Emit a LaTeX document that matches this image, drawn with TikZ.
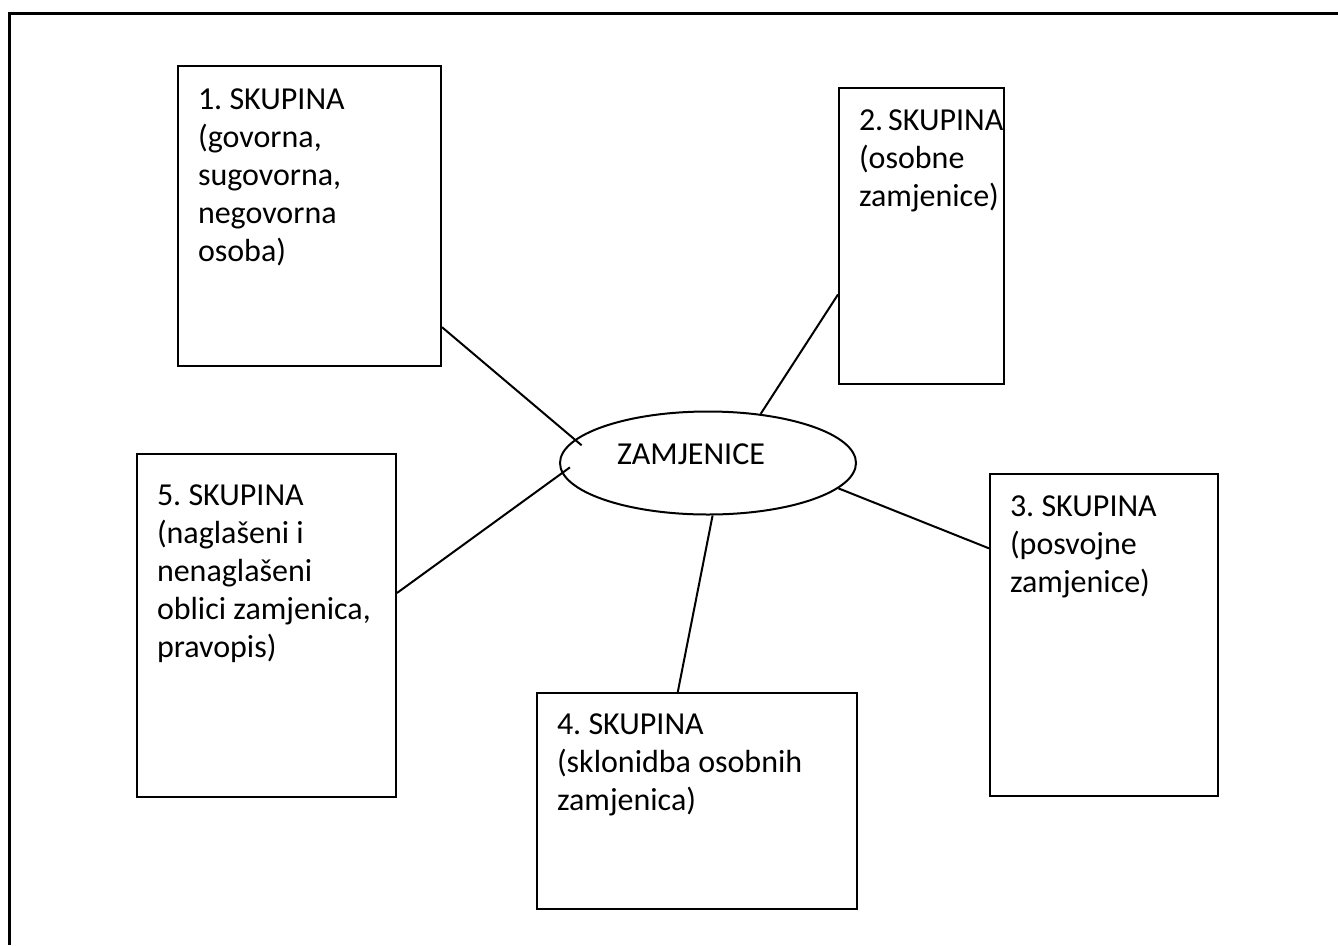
\documentclass[tikz,border=0pt]{standalone}
\usepackage{fontspec}
\setmainfont{Carlito}
\frenchspacing
\usetikzlibrary{shapes.geometric}

\begin{document}
\begin{tikzpicture}[x=1pt,y=-1pt,
        skupina/.style={draw, line width=2pt, anchor=north west, align=flush left,
            inner xsep=20pt, inner ysep=0pt, font=\fontsize{32}{38}\selectfont},
        veza/.style={line width=2pt}]
    \useasboundingbox (0,0) rectangle (1338,945);
    \draw[line width=3pt] (1338,13) -- (9.5,13) -- (9.5,945);

    \node[skupina, text width=223pt, text height=43pt, text depth=257pt] (s1) at (177,65)
        {1.~SKUPINA\\(govorna,\\sugovorna,\\negovorna\\osoba)};
    \node[skupina, text width=125pt, text height=42pt, text depth=254pt] (s2) at (838,87)
        {2.~SKUPINA\\(osobne\\zamjenice)};
    \node[skupina, text width=188pt, text height=42pt, text depth=280pt] (s3) at (989,473)
        {3.~SKUPINA\\(posvojne\\zamjenice)};
    \node[skupina, text width=280pt, text height=41pt, text depth=175pt] (s4) at (536,692)
        {4.~SKUPINA\\(sklonidba~osobnih\\zamjenica)};
    \node[skupina, text width=219pt, text height=51pt, text depth=292pt] (s5) at (136,453)
        {5.~SKUPINA\\(naglašeni~i\\nenaglašeni\\oblici~zamjenica,\\pravopis)};

    \node[draw, ellipse, line width=2pt, minimum width=296pt, minimum height=103pt,
        inner sep=0pt, font=\fontsize{32}{38}\selectfont, text height=20pt, text depth=18pt]
        (zamj) at (708,463) {ZAMJENICE\hspace*{34pt}};

    \draw[veza, shorten >=-9pt] (s1.-40.7) -- (zamj.170.4);
    \draw[veza] (s2.-145.4) -- (zamj.43.4);
    \draw[veza] (s3.143.6) -- (zamj.-11.3);
    \draw[veza] (s4.100.5) -- (zamj.-85.7);
    \draw[veza, shorten >=-10pt] (s5.14.9) -- (zamj.184.2);
\end{tikzpicture}
\end{document}
